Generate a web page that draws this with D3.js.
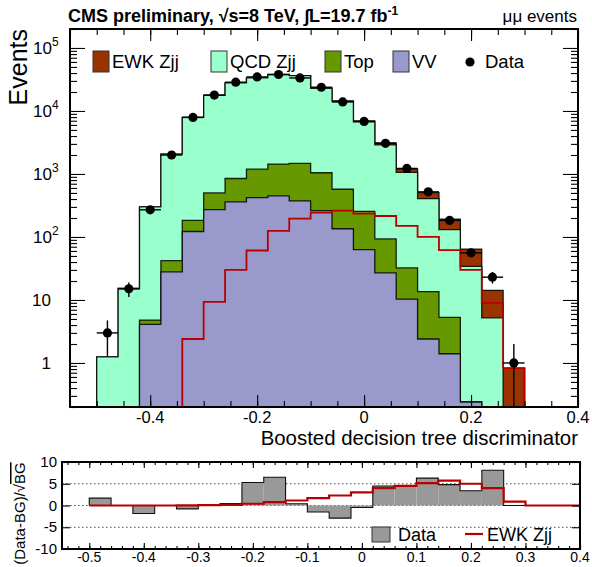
<!DOCTYPE html>
<html>
<head>
<meta charset="utf-8">
<script src="https://cdn.jsdelivr.net/npm/d3@7"></script>
<style>
body { margin: 0; background: #fff; }
</style>
</head>
<body>
<div id="chart"></div>
<script>
// bin edges of the BDT discriminator
const edges = [-0.5, -0.46, -0.42, -0.38, -0.34, -0.3, -0.26, -0.22, -0.18, -0.14, -0.1,
  -0.06, -0.02, 0.02, 0.06, 0.1, 0.14, 0.18, 0.22, 0.26, 0.3];

// stacked backgrounds + signal (events per bin)
const vv     = [0, 0, 4.1, 28, 122, 271, 360, 421, 449, 373, 261, 135, 63, 27, 10.3, 2.4, 1.4, 0.24, 0, 0];
const ttbar  = [0, 0, 0.7, 14, 61, 229, 488, 769, 986, 1097, 784, 437, 192, 66, 22, 11.2, 3.9, 0, 0, 0];
const qcd    = [1.25, 15.2, 295, 2030, 7715, 17190, 27120, 32350, 36340, 34835, 21910, 13670, 6490, 2800, 1025, 392, 125, 34, 5.2, 0];
const ewk    = [0, 0, 0, 0, 2.4, 9.3, 30, 61, 125, 195, 243, 261, 234, 215, 150, 100, 62, 30, 9, 0.83];
const obs    = [3, 15, 270, 2000, 7900, 17900, 28600, 34700, 37900, 33400, 23800, 13900, 6820, 3070, 1224, 520, 183, 56, 23, 1];

// lower pad: (Data-BG)/sqrt(BG) and EWK/sqrt(BG)
const pull   = [1.7, 0, -1.85, 0, -0.77, 0.1, 0.46, 5.3, 6.5, 0.4, -1.5, -2.9, -0.46, 4.5, 4.5, 6.3, 4.8, 3.4, 8.1, 0];
const ewkSig = [0, 0, 0, 0, 0.03, 0.1, 0.15, 0.4, 0.77, 1.15, 1.7, 2.3, 3.0, 4.0, 4.5, 5.15, 5.7, 5.0, 4.0, 0.9];

const xMajor = [-0.4, -0.2, 0, 0.2, 0.4];
const xLowLabels = [-0.5, -0.4, -0.3, -0.2, -0.1, 0, 0.1, 0.2, 0.3, 0.4];
const yLowLabels = [-10, -5, 0, 5, 10];

const colEWK = "#993300", colQCD = "#99ffcc", colTop = "#669900", colVV = "#9999cc", colLine = "#b80000";

const width = 592, height = 567;
const svg = d3.select("#chart").append("svg")
  .attr("width", width)
  .attr("height", height)
  .style("font-family", "'Liberation Sans', Arial, Helvetica, sans-serif");

// ---------- main pad ----------
const m = {left: 70, right: 578, top: 29, bottom: 407};
const x = d3.scaleLinear().domain([-0.55, 0.4]).range([m.left, m.right]);
const y = d3.scaleLog().domain([0.2, 2e5]).range([m.bottom, m.top]);
const yv = v => v > 0.2 ? y(v) : m.bottom;

svg.append("clipPath").attr("id", "clipMain")
  .append("rect").attr("x", m.left).attr("y", m.top)
  .attr("width", m.right - m.left).attr("height", m.bottom - m.top);

function stepPath(vals, xs, yf, base) {
  let p = `M${xs(edges[0])},${base}`;
  vals.forEach((v, i) => {
    p += `L${xs(edges[i])},${yf(v)}L${xs(edges[i + 1])},${yf(v)}`;
  });
  p += `L${xs(edges[vals.length])},${base}`;
  return p;
}

const c1 = vv;
const c2 = vv.map((v, i) => v + ttbar[i]);
const c3 = c2.map((v, i) => v + qcd[i]);
const c4 = c3.map((v, i) => v + ewk[i]);

const main = svg.append("g").attr("clip-path", "url(#clipMain)");
[[c4, colEWK], [c3, colQCD], [c2, colTop], [c1, colVV]].forEach(([vals, col]) => {
  main.append("path")
    .attr("d", stepPath(vals, x, yv, m.bottom))
    .attr("fill", col)
    .attr("stroke", "#000")
    .attr("stroke-width", 1.3)
    .attr("stroke-opacity", 0.85);
});

// EWK Zjj alone, as a line
main.append("path")
  .attr("d", stepPath(ewk, x, yv, m.bottom) + `L${x.range()[1]},${m.bottom}`)
  .attr("fill", "none")
  .attr("stroke", colLine)
  .attr("stroke-width", 1.8);

// data points with errors
const pts = main.selectAll(".pt").data(obs).enter().append("g");
pts.append("line")
  .attr("x1", (d, i) => x(edges[i])).attr("x2", (d, i) => x(edges[i + 1]))
  .attr("y1", d => y(d)).attr("y2", d => y(d))
  .attr("stroke", "#000").attr("stroke-width", 1.4);
pts.append("line")
  .attr("x1", (d, i) => x((edges[i] + edges[i + 1]) / 2))
  .attr("x2", (d, i) => x((edges[i] + edges[i + 1]) / 2))
  .attr("y1", d => yv(d + Math.sqrt(d)))
  .attr("y2", d => yv(d - Math.sqrt(d)))
  .attr("stroke", "#000").attr("stroke-width", 1.4);
pts.append("circle")
  .attr("cx", (d, i) => x((edges[i] + edges[i + 1]) / 2))
  .attr("cy", d => y(d))
  .attr("r", 4.6)
  .attr("fill", "#000");

// ticks (ROOT style: inward, all four sides)
const xMinor = d3.range(-55, 41, 5).map(v => v / 100);
const axT = (g, vals, size) => g.call(d3.axisBottom(x).tickValues(vals).tickSize(size).tickFormat(""))
  .call(a => a.select(".domain").remove());
svg.append("g").attr("transform", `translate(0,${m.bottom})`).call(axT, xMinor, -6);
svg.append("g").attr("transform", `translate(0,${m.bottom})`).call(axT, xMajor, -12);
svg.append("g").attr("transform", `translate(0,${m.top})`).call(axT, xMinor, 6);
svg.append("g").attr("transform", `translate(0,${m.top})`).call(axT, xMajor, 12);

const yMajorVals = [1, 10, 100, 1e3, 1e4, 1e5];
const yMinorVals = [];
[0.1, 1, 10, 100, 1e3, 1e4, 1e5].forEach(dec => {
  for (let k = 2; k <= 9; k++) {
    const v = dec * k;
    if (v >= 0.2 && v <= 2e5) yMinorVals.push(v);
  }
});
const ayT = (g, vals, size) => g.call(d3.axisLeft(y).tickValues(vals).tickSize(size).tickFormat(""))
  .call(a => a.select(".domain").remove());
svg.append("g").attr("transform", `translate(${m.left},0)`).call(ayT, yMinorVals, -7);
svg.append("g").attr("transform", `translate(${m.left},0)`).call(ayT, yMajorVals, -15);
svg.append("g").attr("transform", `translate(${m.right},0)`).call(ayT, yMinorVals, 7);
svg.append("g").attr("transform", `translate(${m.right},0)`).call(ayT, yMajorVals, 15);
svg.selectAll(".tick line").attr("stroke", "#000").attr("stroke-width", 1.2);

// x labels
svg.append("g").selectAll("text").data(xMajor).enter().append("text")
  .attr("x", d => x(d)).attr("y", 423)
  .attr("text-anchor", "middle")
  .style("font-size", "16.5px")
  .text(d => d === 0 ? "0" : String(d));

// y labels
yMajorVals.forEach(v => {
  const e = Math.round(Math.log10(v));
  const t = svg.append("text")
    .attr("y", y(v) + 6)
    .style("font-size", "17px");
  if (e <= 1) {
    t.attr("x", 51).attr("text-anchor", "end").text(e === 0 ? "1" : "10");
  } else {
    t.attr("x", 33).text("10");
    t.append("tspan").attr("dy", -8).style("font-size", "12px").text(e);
  }
});

svg.append("text")
  .attr("transform", `translate(27,${m.top}) rotate(-90)`)
  .attr("text-anchor", "end")
  .style("font-size", "25px")
  .text("Events");

svg.append("text")
  .attr("x", m.right).attr("y", 445)
  .attr("text-anchor", "end")
  .style("font-size", "20.4px")
  .text("Boosted decision tree discriminator");

// title
const ttl = svg.append("text").attr("x", 68).attr("y", 22)
  .style("font-size", "18px").style("font-weight", "bold");
ttl.append("tspan").text("CMS preliminary,  \u221As=8 TeV,  \u222BL=19.7 fb");
ttl.append("tspan").attr("dy", -7).style("font-size", "12px").text("-1");
svg.append("text").attr("x", 577).attr("y", 22)
  .attr("text-anchor", "end").style("font-size", "17px")
  .text("\u03BC\u03BC events");

// legend
const leg = [
  {x: 93, col: colEWK, label: "EWK Zjj"},
  {x: 211, col: colQCD, label: "QCD Zjj"},
  {x: 325, col: colTop, label: "Top"},
  {x: 393, col: colVV, label: "VV"}
];
leg.forEach(l => {
  svg.append("rect").attr("x", l.x).attr("y", 51).attr("width", 16).attr("height", 21)
    .attr("fill", l.col).attr("stroke", "#333").attr("stroke-width", 1);
  svg.append("text").attr("x", l.x + 19).attr("y", 68).style("font-size", "18.5px").text(l.label);
});
svg.append("circle").attr("cx", 470).attr("cy", 62).attr("r", 4.6).attr("fill", "#000");
svg.append("text").attr("x", 485).attr("y", 68).style("font-size", "18.5px").text("Data");

// frame
svg.append("rect").attr("x", m.left).attr("y", m.top)
  .attr("width", m.right - m.left).attr("height", m.bottom - m.top)
  .attr("fill", "none").attr("stroke", "#000").attr("stroke-width", 2);

// ---------- lower pad ----------
const l = {left: 62, right: 580, top: 462, bottom: 549};
const xl = d3.scaleLinear().domain([-0.55, 0.4]).range([l.left, l.right]);
const yl = d3.scaleLinear().domain([-10, 10]).range([l.bottom, l.top]);

const low = svg.append("g");
[5, 0, -5].forEach(v => {
  low.append("line").attr("x1", l.left).attr("x2", l.right)
    .attr("y1", yl(v)).attr("y2", yl(v))
    .attr("stroke", "#444").attr("stroke-width", 1).attr("stroke-dasharray", "1.5,2.5");
});

low.selectAll(".bar").data(pull).enter().append("rect")
  .attr("x", (d, i) => xl(edges[i]))
  .attr("width", (d, i) => xl(edges[i + 1]) - xl(edges[i]))
  .attr("y", d => yl(Math.max(d, 0)))
  .attr("height", d => Math.abs(yl(d) - yl(0)))
  .attr("fill", "#999");
low.append("path")
  .attr("d", stepPath(pull, xl, yl, yl(0)))
  .attr("fill", "none").attr("stroke", "#111").attr("stroke-width", 1.1);
low.append("path")
  .attr("d", stepPath(ewkSig, xl, yl, yl(0)).replace(/^M[^L]+L/, "M")
    + `L${xl.range()[1]},${yl(0)}`)
  .attr("fill", "none").attr("stroke", colLine).attr("stroke-width", 2.2);

const lxMinor = d3.range(-27, 21, 1).map(v => v / 50);
const lxMajor = xLowLabels;
const lxT = (g, vals, size) => g.call(d3.axisBottom(xl).tickValues(vals).tickSize(size).tickFormat(""))
  .call(a => a.select(".domain").remove());
svg.append("g").attr("transform", `translate(0,${l.bottom})`).call(lxT, lxMinor, -3);
svg.append("g").attr("transform", `translate(0,${l.bottom})`).call(lxT, lxMajor, -6);
svg.append("g").attr("transform", `translate(0,${l.top})`).call(lxT, lxMinor, 3);
svg.append("g").attr("transform", `translate(0,${l.top})`).call(lxT, lxMajor, 6);
const lyT = (g, vals, size) => g.call(d3.axisLeft(yl).tickValues(vals).tickSize(size).tickFormat(""))
  .call(a => a.select(".domain").remove());
svg.append("g").attr("transform", `translate(${l.left},0)`).call(lyT, yLowLabels, -8);
svg.append("g").attr("transform", `translate(${l.right},0)`).call(lyT, yLowLabels, 8);
svg.selectAll(".tick line").attr("stroke", "#000").attr("stroke-width", 1.1);

svg.append("g").selectAll("text").data(xLowLabels).enter().append("text")
  .attr("x", d => xl(d)).attr("y", 562)
  .attr("text-anchor", "middle").style("font-size", "14px")
  .text(d => d === 0 ? "0" : String(d));
svg.append("g").selectAll("text").data(yLowLabels).enter().append("text")
  .attr("x", 57).attr("y", d => yl(d) + 5)
  .attr("text-anchor", "end").style("font-size", "15px")
  .text(d => String(d));

const yt = svg.append("text")
  .attr("transform", `translate(25,${(l.top + l.bottom) / 2 + 8}) rotate(-90)`)
  .attr("text-anchor", "middle").style("font-size", "15px");
yt.append("tspan").text("(Data-BG)/\u221A");
yt.append("tspan").style("text-decoration", "overline").text("BG");

// lower legend
svg.append("rect").attr("x", 372).attr("y", 527).attr("width", 18).attr("height", 15)
  .attr("fill", "#999").attr("stroke", "#333");
svg.append("text").attr("x", 398).attr("y", 541).style("font-size", "18px").text("Data");
svg.append("line").attr("x1", 465).attr("x2", 483).attr("y1", 534).attr("y2", 534)
  .attr("stroke", colLine).attr("stroke-width", 2.2);
svg.append("text").attr("x", 487).attr("y", 541).style("font-size", "18px").text("EWK Zjj");

svg.append("rect").attr("x", l.left).attr("y", l.top)
  .attr("width", l.right - l.left).attr("height", l.bottom - l.top)
  .attr("fill", "none").attr("stroke", "#000").attr("stroke-width", 2);
</script>
</body>
</html>
